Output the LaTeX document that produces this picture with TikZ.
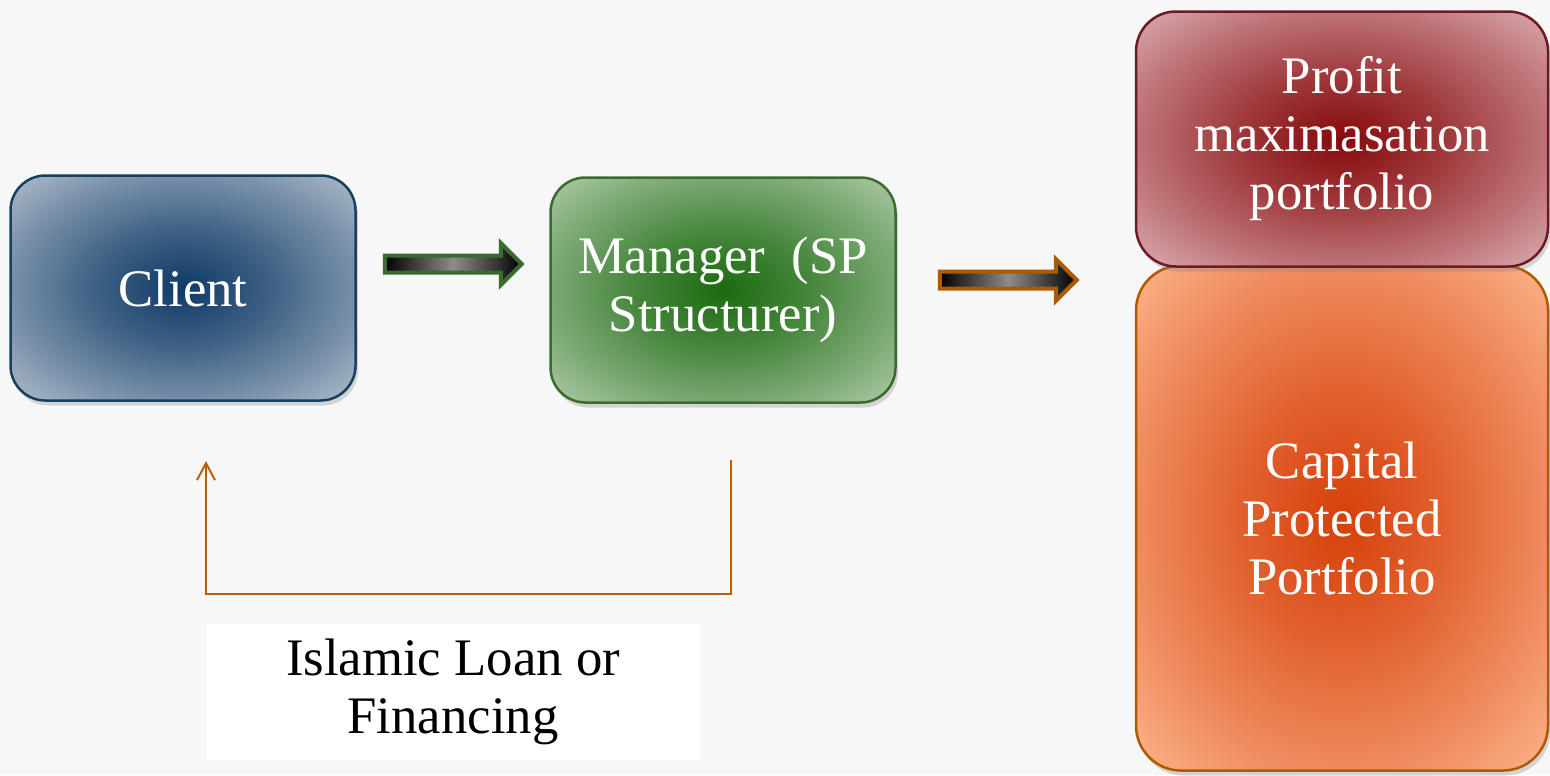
\documentclass[tikz,border=0pt]{standalone}
\usepackage{fontspec}
\setmainfont{Liberation Serif}
\usetikzlibrary{shapes.arrows,shadows,arrows.meta}

\makeatletter
\pgfdeclareradialshading[tikz@radial@inner,tikz@radial@outer]{glow}{\pgfpoint{0bp}{0bp}}{%
  color(0bp)=(tikz@radial@inner);
  color(12.5bp)=(tikz@radial@inner!72!tikz@radial@outer);
  color(25bp)=(tikz@radial@inner!36!tikz@radial@outer);
  color(36bp)=(tikz@radial@outer);
  color(50bp)=(tikz@radial@outer)}
\makeatother

\definecolor{clientblue}{HTML}{0F3A66}
\definecolor{clientedge}{HTML}{B4C0CE}
\definecolor{clientline}{HTML}{173F5F}
\definecolor{managergreen}{HTML}{1B6A10}
\definecolor{manageredge}{HTML}{B2CCAC}
\definecolor{managerline}{HTML}{3B6B2E}
\definecolor{profitred}{HTML}{860A0C}
\definecolor{profitedge}{HTML}{DDB0B4}
\definecolor{profitline}{HTML}{6E1A24}
\definecolor{capitalorange}{HTML}{D6400A}
\definecolor{capitaledge}{HTML}{FDB68E}
\definecolor{capitalline}{HTML}{B05A00}
\definecolor{loopbrown}{HTML}{B8600A}

\begin{document}
\begin{tikzpicture}[x=0.1mm, y=-0.1mm,
    stagebox/.style={rounded corners=3.5mm, line width=0.25mm, inner sep=0pt,
        text=white, align=center, font=\fontsize{15pt}{16.5pt}\selectfont,
        drop shadow={shadow xshift=0.25mm, shadow yshift=-0.5mm, opacity=0.3}},
    blockarrow/.style={single arrow, draw=#1, line width=0.4mm, inner xsep=0pt, inner ysep=0.65mm,
        minimum height=1.37cm, single arrow head extend=1.25mm,
        left color=black, right color=black, middle color=black!45},
    loopline/.style={draw=loopbrown, line width=0.2mm}]

    % draw the background
    \fill[black!3] (0,0) rectangle (1550,775);
    \useasboundingbox (0,0) rectangle (1550,775);

    % draw the client and the manager
    \node[stagebox, draw=clientline, inner color=clientblue, outer color=clientedge, shading=glow,
        minimum width=3.45cm, minimum height=2.25cm] (client) at (183,288) {Client};
    \node[stagebox, draw=managerline, inner color=managergreen, outer color=manageredge, shading=glow,
        minimum width=3.45cm, minimum height=2.25cm] (manager) at (723,290) {Manager\ \ (SP\\Structurer)};

    % draw the two portfolios
    \node[stagebox, draw=capitalline, inner color=capitalorange, outer color=capitaledge, shading=glow,
        rounded corners=4.5mm, minimum width=4.12cm, minimum height=5.05cm] (capital) at (1342,518) {Capital\\Protected\\Portfolio};
    \node[stagebox, draw=profitline, inner color=profitred, outer color=profitedge, shading=glow,
        rounded corners=4mm, minimum width=4.12cm, minimum height=2.55cm] (profit) at (1342,139) {Profit\\maximasation\\portfolio};

    % draw the block arrows
    \node[blockarrow=managerline] (step1) at (449,264) {};
    \node[blockarrow=capitalline] (step2) at (1004,280) {};

    % draw the loop back to the client
    \coordinate (loopstart) at (731,460);
    \coordinate (loopend) at (206,461);
    \draw[loopline, -{Straight Barb[length=1.7mm, width=1.8mm]}] (loopstart) -- ++(0,134) -| (loopend);

    % draw the loan label
    \node[fill=white, minimum width=4.94cm, minimum height=1.36cm, align=center,
        font=\fontsize{15pt}{16.5pt}\selectfont] (loan) at (453,692) {Islamic Loan or\\Financing};
\end{tikzpicture}
\end{document}
